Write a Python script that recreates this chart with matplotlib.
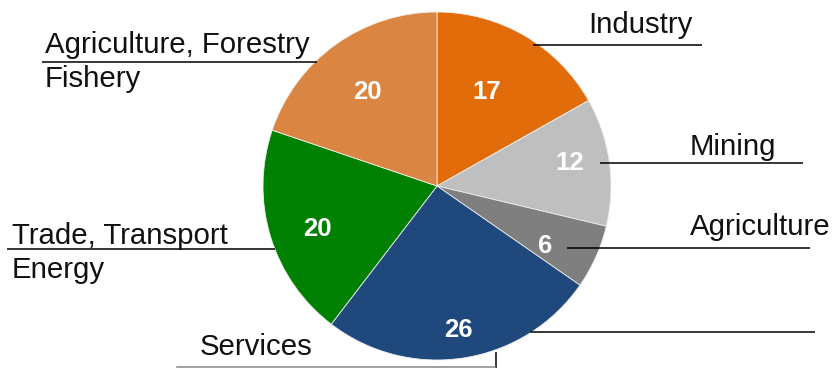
import matplotlib.pyplot as plt

plt.rcParams['font.family'] = ['Liberation Sans', 'DejaVu Sans']

# sector shares, clockwise from 12 o'clock
sectors = ["Industry", "Mining", "Agriculture", "Services",
           "Trade, Transport\nEnergy", "Agriculture, Forestry\nFishery"]
shares = [17, 12, 6, 26, 20, 20]
colors = ["#E36C0A", "#BFBFBF", "#7F7F7F", "#1F497D", "#008000", "#DA8541"]

W, H = 833, 368
fig = plt.figure(figsize=(W / 100, H / 100), dpi=100)
ax = fig.add_axes([0, 0, 1, 1])

cx, cy, r = 437, H - 186, 174
wedges, _ = ax.pie(shares, colors=colors, startangle=90, counterclock=False,
                   center=(cx, cy), radius=r, frame=True,
                   wedgeprops=dict(edgecolor='#eeeeee', linewidth=0.6))
ax.set_xlim(0, W)
ax.set_ylim(0, H)
ax.axis('off')

# value labels inside the slices (pixel positions, y from top)
value_pos = [(487, 92), (570, 163), (545, 246), (458, 330), (317, 229), (367, 92)]
for v, (x, y) in zip(shares, value_pos):
    ax.text(x, H - y, str(v), color='white', fontsize=18.5, fontweight='bold',
            ha='center', va='center')

# category labels (baseline of last line) and their leader lines
label_pos = [(588, 33), (690, 155), (690, 235), (200, 355), (12, 278), (45, 87)]
for name, (x, y) in zip(sectors, label_pos):
    ax.text(x, H - y, name, fontsize=21.2, ha='left', va='baseline',
            linespacing=1.28, color='#111111')

leaders = [
    ((533, 702), (45, 45)),
    ((600, 803), (163, 163)),
    ((567, 810), (248, 248)),
    ((7, 275), (249, 249)),
    ((42, 317), (62, 62)),
    ((530, 815), (332, 332)),
    ((496, 496), (352, 368)),
]
for xs, ys in leaders:
    ax.plot(xs, [H - y for y in ys], color='black', lw=1.1, solid_capstyle='butt')
ax.plot([177, 495], [H - 366.5, H - 366.5], color='#888888', lw=1.1)

fig.savefig("out.png", dpi=100)
